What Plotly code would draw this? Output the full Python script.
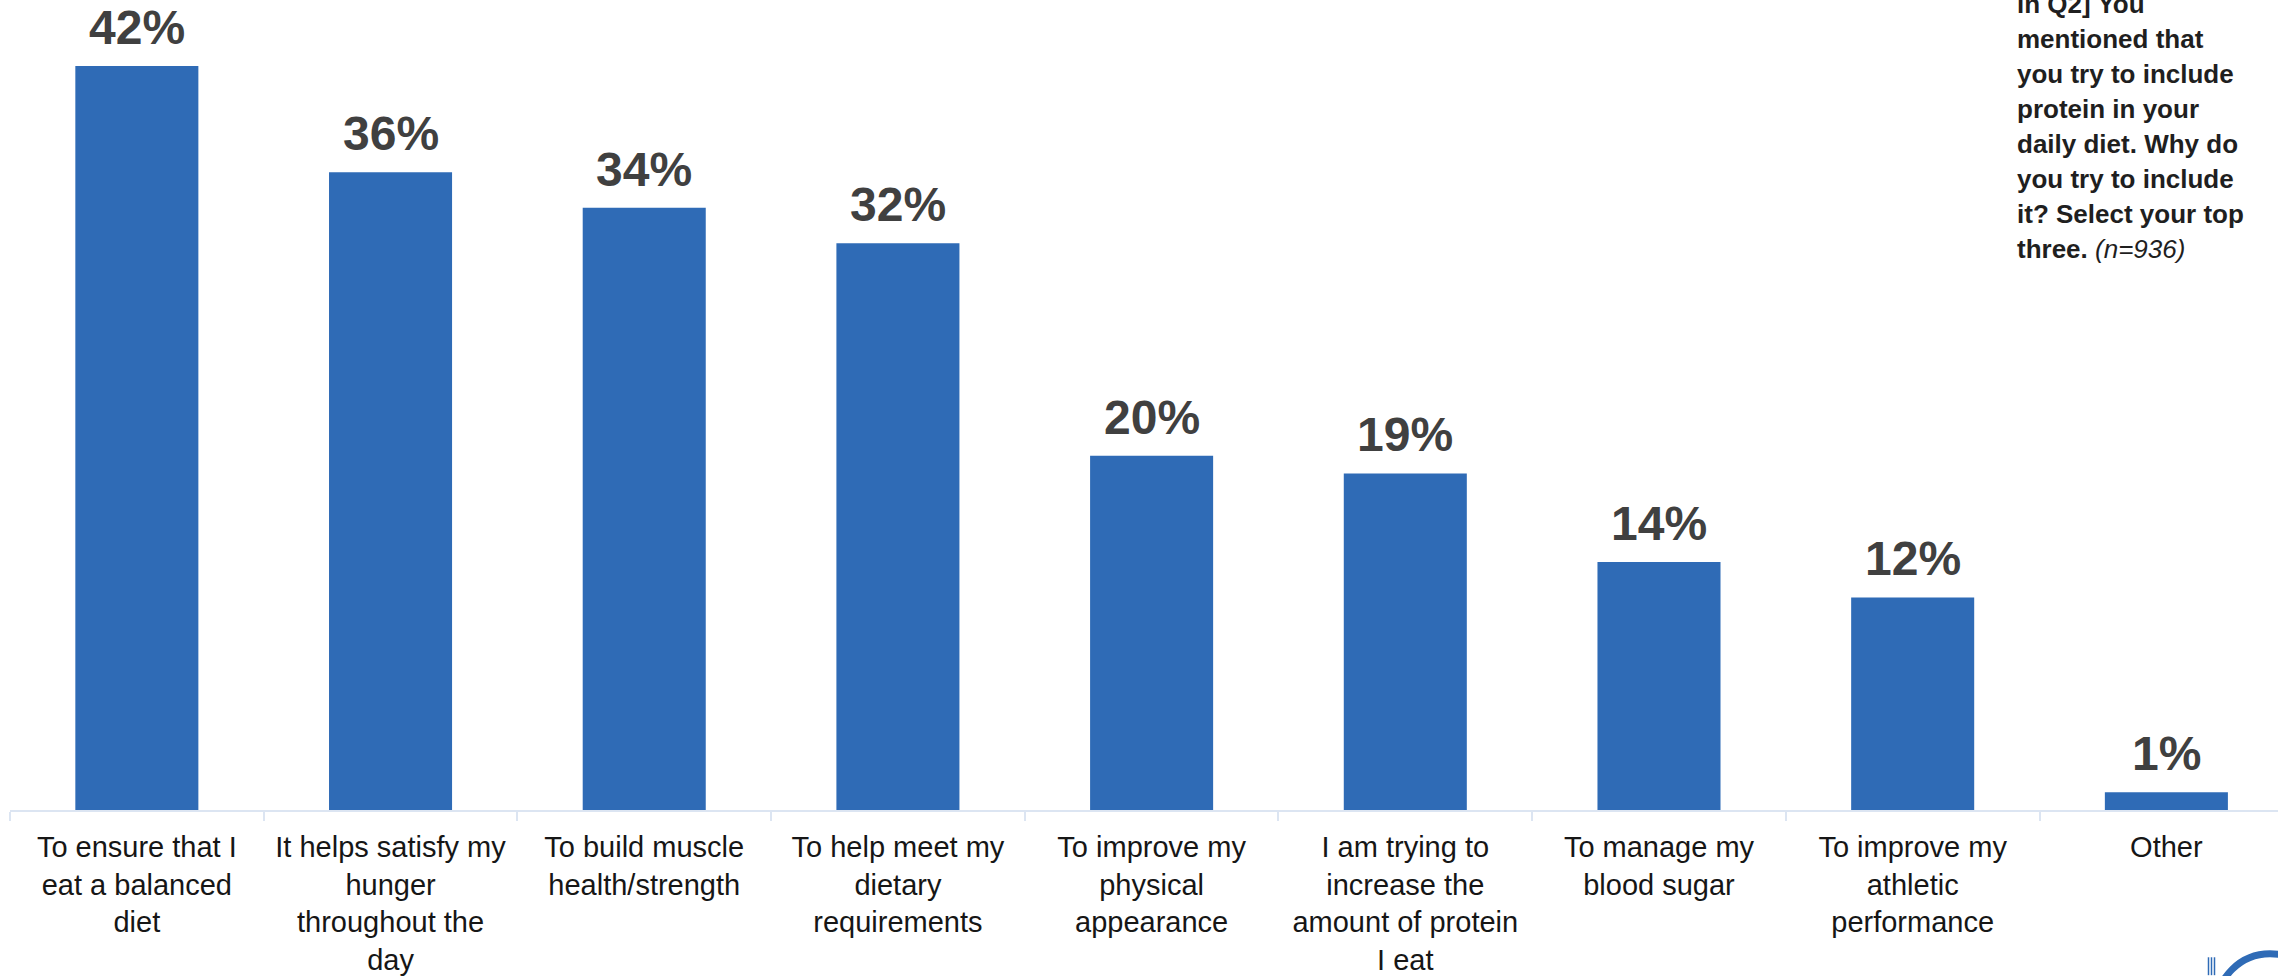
import plotly.graph_objects as go

# Survey results: reasons for including protein in the daily diet
reasons = [
    "To ensure that I eat a balanced diet",
    "It helps satisfy my hunger throughout the day",
    "To build muscle health/strength",
    "To help meet my dietary requirements",
    "To improve my physical appearance",
    "I am trying to increase the amount of protein I eat",
    "To manage my blood sugar",
    "To improve my athletic performance",
    "Other",
]
tick_labels = [
    "To ensure that I<br>eat a balanced<br>diet",
    "It helps satisfy my<br>hunger<br>throughout the<br>day",
    "To build muscle<br>health/strength",
    "To help meet my<br>dietary<br>requirements",
    "To improve my<br>physical<br>appearance",
    "I am trying to<br>increase the<br>amount of protein<br>I eat",
    "To manage my<br>blood sugar",
    "To improve my<br>athletic<br>performance",
    "Other",
]
shares = [42, 36, 34, 32, 20, 19, 14, 12, 1]

note_lines = [
    "<b>in Q2] You</b>",
    "<b>mentioned that</b>",
    "<b>you try to include</b>",
    "<b>protein in your</b>",
    "<b>daily diet. Why do</b>",
    "<b>you try to include</b>",
    "<b>it? Select your top</b>",
    "<b>three.</b> <i>(n=936)</i>",
]

W, H = 2278, 976
ML, MR, MT, MB = 10, 0, 0, 162
PW, PH = W - ML - MR, H - MT - MB


def px_x(px):
    return (px - ML) / PW


def px_y(py):
    return (H - MB - py) / PH


BLUE = "#2F6BB6"
FONT = "Liberation Sans, Arial, sans-serif"

fig = go.Figure(
    go.Bar(
        x=reasons,
        y=shares,
        marker=dict(color=BLUE, line=dict(width=0)),
        hoverinfo="skip",
    )
)

# value labels above each bar
for r, v in zip(reasons, shares):
    fig.add_annotation(
        x=r, y=v, xref="x", yref="y",
        text=f"<b>{v}%</b>",
        showarrow=False,
        yanchor="bottom",
        yshift=10,
        font=dict(family=FONT, size=48, color="#404040"),
    )

# question text in the upper right corner
for i, line in enumerate(note_lines):
    baseline = 13 + 35.2 * i
    fig.add_annotation(
        x=px_x(2015), y=px_y(baseline - 9),
        xref="paper", yref="paper",
        text=line, showarrow=False,
        xanchor="left", yanchor="middle",
        font=dict(family=FONT, size=26, color="#1F1F1F"),
    )

# corner logo fragment
shapes = [
    dict(
        type="circle", xref="paper", yref="paper",
        x0=px_x(2270 - 53.5), x1=px_x(2270 + 53.5),
        y0=px_y(1012 + 53.5), y1=px_y(1012 - 53.5),
        line=dict(color=BLUE, width=7),
    )
]
for lx in (2208.5, 2211.5, 2214.5):
    shapes.append(
        dict(
            type="line", xref="paper", yref="paper",
            x0=px_x(lx), x1=px_x(lx), y0=px_y(962), y1=px_y(980),
            line=dict(color=BLUE, width=1.5),
        )
    )

fig.update_layout(
    width=W, height=H,
    margin=dict(l=ML, r=MR, t=MT, b=MB, pad=0),
    paper_bgcolor="white",
    plot_bgcolor="white",
    bargap=0.515,
    showlegend=False,
    shapes=shapes,
    xaxis=dict(
        type="category",
        range=[-0.5, 8.44],
        tickmode="array",
        tickvals=reasons,
        ticktext=tick_labels,
        tickson="boundaries",
        ticks="outside",
        ticklen=9,
        tickwidth=2,
        tickcolor="#DCE5F2",
        ticklabelstandoff=10,
        showline=True,
        linecolor="#DCE5F2",
        linewidth=2,
        showgrid=False,
        tickfont=dict(family=FONT, size=29, color="#161616"),
        tickangle=0,
    ),
    yaxis=dict(
        range=[0, 45.73],
        visible=False,
        showgrid=False,
        zeroline=False,
    ),
)

fig.write_html("out.html")
